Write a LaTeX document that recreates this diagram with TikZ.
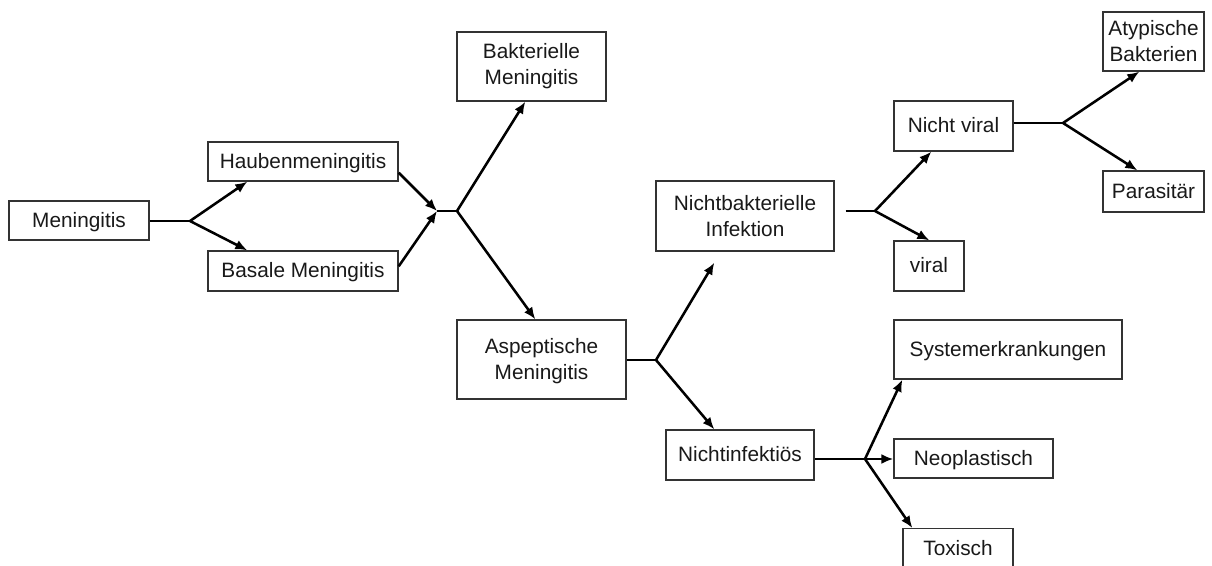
\documentclass[tikz,border=0pt]{standalone}
\usepackage{fontspec}
\setmainfont{Liberation Sans}
\usetikzlibrary{arrows.meta,calc}
\begin{document}
\begin{tikzpicture}[x=0.75pt,y=-0.75pt,
  box/.style={draw=black!80, line width=1pt, inner sep=0pt, align=center,
    font=\fontsize{15.6pt}{19.5pt}\selectfont, fill=white, text=black!90},
  oneline/.style={text height=10pt, text depth=0pt},
  conn/.style={line width=1.9pt, black},
  arr/.style={conn, -{Latex[length=9pt,width=7.5pt]}}]
\clip (0,0) rectangle (1212,566);
\fill[white] (0,0) rectangle (1212,566);
% boxes
\node[box, oneline, minimum width=105pt, minimum height=29.25pt] (men) at (79,220.5) {Meningitis};
\node[box, oneline, minimum width=142.5pt, minimum height=29.25pt] (hau) at (303,161.5) {Haubenmeningitis};
\node[box, oneline, minimum width=142.5pt, minimum height=30pt] (bas) at (303,271) {Basale Meningitis};
\node[box, minimum width=111.75pt, minimum height=51.75pt] (bak) at (531.5,66.5) {Bakterielle\\Meningitis};
\node[box, minimum width=126.75pt, minimum height=59.25pt] (asp) at (541.5,359.5) {\rule{0pt}{13pt}Aspeptische\\Meningitis};
\node[box, minimum width=133.5pt, minimum height=52.5pt] (nbi) at (745,216) {Nichtbakterielle\\Infektion};
\node[box, oneline, minimum width=89.25pt, minimum height=37.5pt] (nv) at (953.5,126) {Nicht viral};
\node[box, oneline, minimum width=52.5pt, minimum height=37.5pt] (vir) at (929,266) {viral};
\node[box, minimum width=75.75pt, minimum height=44.25pt] (aty) at (1153.5,41.5) {Atypische\\Bakterien};
\node[box, oneline, minimum width=75.75pt, minimum height=30.75pt] (par) at (1153.5,191.5) {Parasitär};
\node[box, oneline, minimum width=111pt, minimum height=37.5pt] (nin) at (740,455) {Nichtinfektiös};
\node[box, oneline, minimum width=171pt, minimum height=44.25pt] (sys) at (1008,349.5) {Systemerkrankungen};
\node[box, oneline, minimum width=119.25pt, minimum height=29.25pt] (neo) at (973.5,458.5) {Neoplastisch};
\node[box, minimum width=82.5pt, text height=20pt, text depth=20pt, anchor=north] (tox) at (958,528) {Toxisch};
% split points
\coordinate (s1) at (190,221);
\coordinate (s2) at (437,211);
\coordinate (s3) at (457,211);
\coordinate (s4) at (656,360);
\coordinate (s5) at (875,211);
\coordinate (s6) at (1063,123);
\coordinate (s7) at (865,459);
% connectors
\draw[conn] (men.east |- s1) -- (s1);
\draw[arr] (s1) -- ($(hau.south west)+(40,0)$);
\draw[arr] (s1) -- ($(bas.north west)+(40,0)$);
\draw[arr] ($(hau.south east)+(0,-9)$) -- (s2);
\draw[arr] ($(bas.north east)+(0,16)$) -- (s2);
\draw[conn] (s2) -- (s3);
\draw[arr] (s3) -- ($(bak.south west)+(69,0)$);
\draw[arr] (s3) -- ($(asp.north west)+(79,0)$);
\draw[conn] (asp.east |- s4) -- (s4);
\draw[arr] (s4) -- ($(nbi.south west)+(59,11)$);
\draw[arr] (s4) -- ($(nin.north west)+(49,0)$);
\draw[conn] ($(nbi.east |- s5)+(11,0)$) -- (s5);
\draw[arr] (s5) -- ($(nv.south west)+(38,0)$);
\draw[arr] (s5) -- ($(vir.north west)+(36,0)$);
\draw[conn] (nv.east |- s6) -- (s6);
\draw[arr] (s6) -- ($(aty.south west)+(37,0)$);
\draw[arr] (s6) -- ($(par.north west)+(35,0)$);
\draw[conn] (nin.east |- s7) -- (s7);
\draw[arr] (s7) -- ($(sys.south west)+(9,0)$);
\draw[arr] (s7) -- (neo.west |- s7);
\draw[arr] (s7) -- ($(tox.north west)+(10,0)$);
\end{tikzpicture}
\end{document}
